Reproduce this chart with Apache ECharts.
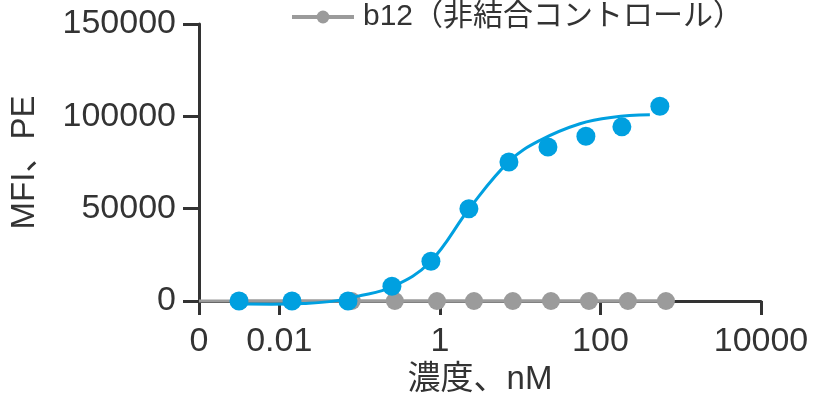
<!DOCTYPE html>
<html>
<head>
<meta charset="utf-8">
<script src="https://cdn.jsdelivr.net/npm/echarts@6/dist/echarts.min.js"></script>
<style>
  html, body { margin: 0; padding: 0; background: #fff; }
  #chart { width: 815px; height: 402px; }
</style>
</head>
<body>
<div id="chart"></div>
<script>
// Concentration axis (nM), shown on a log10 scale; the first tick stands for 0
const xTickValues = [0.001, 0.01, 1, 100, 10000];
const xTickLabels = ['0', '0.01', '1', '100', '10000'];
const yTickValues = [0, 50000, 100000, 150000];

// Binding antibody: measured MFI points
const bindConc = [0.00315, 0.0144, 0.0718, 0.253, 0.774, 2.30, 7.25, 22.2, 65.9, 185, 550];
const bindMFI  = [0, 0, 0, 8000, 21500, 50000, 75300, 83400, 89200, 94300, 105500];

// Binding antibody: fitted dose-response curve
const fitConc = [0.003, 0.008, 0.02, 0.045, 0.093, 0.26, 0.75, 2.37, 7.46, 17.7, 55.6, 143, 413];
const fitMFI  = [-1500, -1700, -1300, -200, 2500, 7800, 21000, 50500, 76000, 87000, 96000, 99500, 100800];

// b12 non-binding control
const ctrlName = 'b12（非結合コントロール）';
const ctrlConc = [0.0032, 0.0144, 0.08, 0.275, 0.92, 2.66, 8.1, 24.2, 72, 220, 655];
const ctrlMFI  = [0, 0, 0, 0, 0, 0, 0, 0, 0, 0, 0];
const ctrlFitConc = [0.001, 655];
const ctrlFitMFI  = [0, 0];

const BLUE = '#00A0E0';
const GREY = '#9B9B9B';
const AXIS = '#333333';
const FONT = "'Liberation Sans', Arial, 'Noto Sans CJK JP', sans-serif";

const lg = v => Math.log10(v);
const pairs = (xs, ys) => xs.map((x, i) => [lg(x), ys[i]]);
const xLabelFor = v => {
  const i = xTickValues.findIndex(t => Math.abs(lg(t) - v) < 1e-6);
  return i >= 0 ? xTickLabels[i] : '';
};

const chart = echarts.init(document.getElementById('chart'), null, { renderer: 'canvas' });
chart.setOption({
  animation: false,
  backgroundColor: '#fff',
  textStyle: { fontFamily: FONT, color: AXIS },
  grid: { left: 199, right: 54, top: 24, bottom: 101, containLabel: false },
  legend: {
    data: [ctrlName],
    left: 285,
    top: -3,
    itemWidth: 62,
    itemHeight: 16,
    lineStyle: { width: 4 },
    textStyle: { fontSize: 30, color: AXIS, fontFamily: FONT, padding: [0, 0, 0, 4] }
  },
  xAxis: {
    type: 'value',
    min: lg(xTickValues[0]),
    max: lg(xTickValues[xTickValues.length - 1]),
    interval: 1,
    name: '濃度、nM',
    nameLocation: 'middle',
    nameGap: 62,
    nameTextStyle: { fontSize: 33, color: AXIS, fontFamily: FONT },
    axisLine: { show: true, onZero: false, lineStyle: { color: AXIS, width: 3 } },
    axisTick: { show: true, length: 14, lineStyle: { color: AXIS, width: 3 },
                customValues: xTickValues.map(lg) },
    axisLabel: { fontSize: 34, color: AXIS, margin: 24, fontFamily: FONT,
                 customValues: xTickValues.map(lg), formatter: xLabelFor },
    splitLine: { show: false }
  },
  yAxis: {
    type: 'value',
    min: yTickValues[0],
    max: yTickValues[yTickValues.length - 1],
    interval: 50000,
    name: 'MFI、PE',
    nameLocation: 'middle',
    nameGap: 158,
    nameTextStyle: { fontSize: 33, color: AXIS, fontFamily: FONT },
    axisLine: { show: true, onZero: false, lineStyle: { color: AXIS, width: 3 } },
    axisTick: { show: true, length: 16, lineStyle: { color: AXIS, width: 3 } },
    axisLabel: { fontSize: 34, color: AXIS, margin: 23, fontFamily: FONT,
                 formatter: v => String(v) },
    splitLine: { show: false }
  },
  series: [
    {
      name: 'b12 fit',
      type: 'line',
      data: pairs(ctrlFitConc, ctrlFitMFI),
      symbol: 'none',
      lineStyle: { color: GREY, width: 3 },
      clip: false,
      z: 2
    },
    {
      name: ctrlName,
      type: 'line',
      data: pairs(ctrlConc, ctrlMFI),
      symbol: 'circle',
      symbolSize: 18,
      itemStyle: { color: GREY },
      lineStyle: { color: GREY, width: 3 },
      clip: false,
      z: 3
    },
    {
      name: 'fit',
      type: 'line',
      data: pairs(fitConc, fitMFI),
      smooth: 0.4,
      symbol: 'none',
      lineStyle: { color: BLUE, width: 3 },
      clip: false,
      z: 4
    },
    {
      name: 'binding',
      type: 'scatter',
      data: pairs(bindConc, bindMFI),
      symbol: 'circle',
      symbolSize: 19,
      itemStyle: { color: BLUE, opacity: 1 },
      clip: false,
      z: 5
    }
  ]
});
</script>
</body>
</html>
